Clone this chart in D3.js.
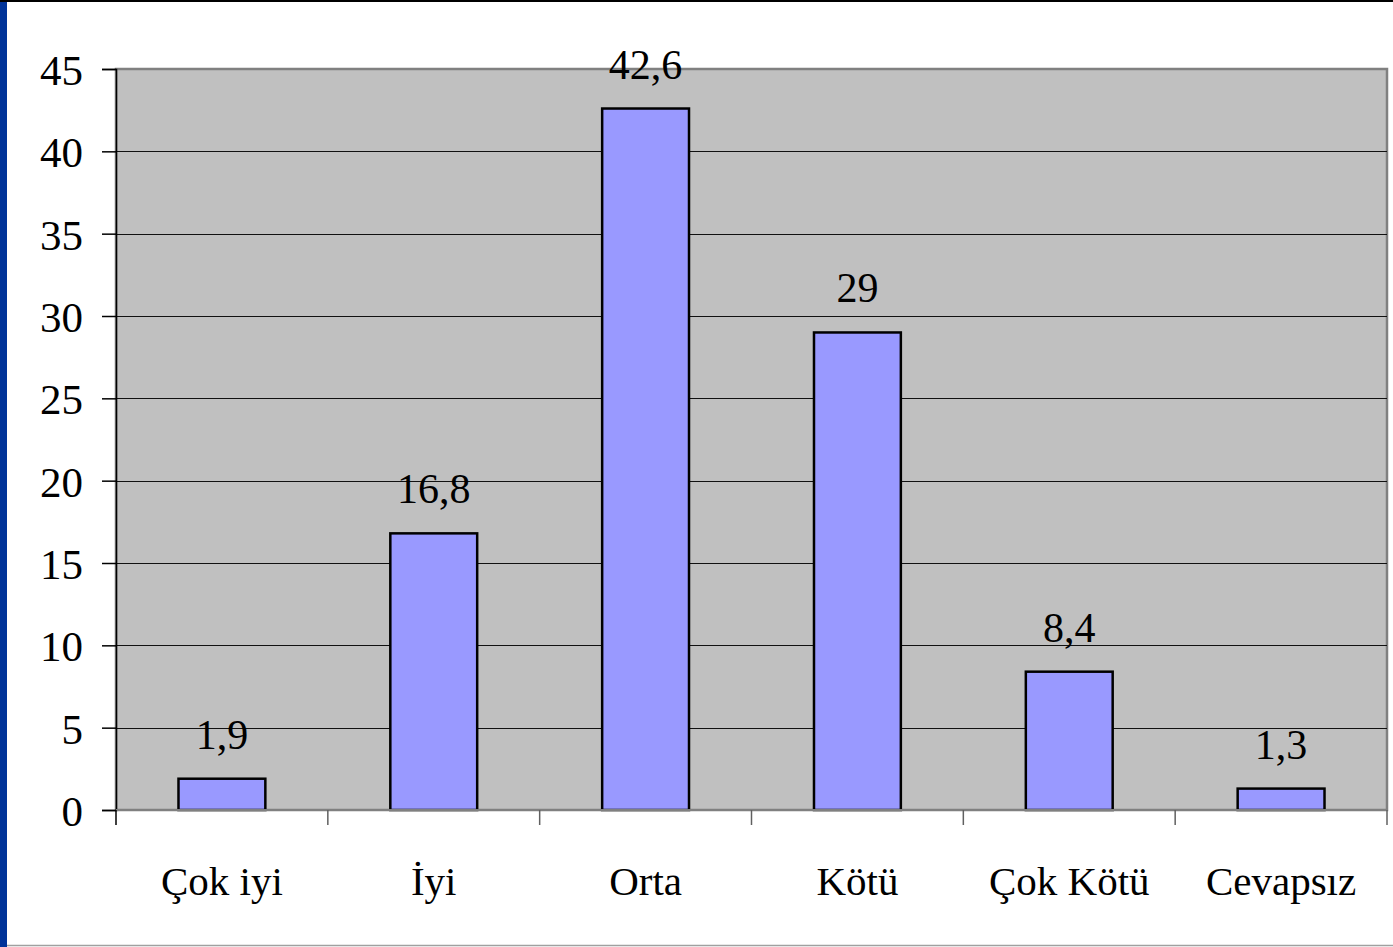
<!DOCTYPE html>
<html>
<head>
<meta charset="utf-8">
<script src="https://cdn.jsdelivr.net/npm/d3@7"></script>
<style>
  html, body { margin: 0; padding: 0; background: #fff; }
  svg { display: block; }
  text { font-family: "Liberation Serif", "Times New Roman", serif; fill: #000; }
</style>
</head>
<body>
<div id="chart"></div>
<script>
const categories = ['Çok iyi', 'İyi', 'Orta', 'Kötü', 'Çok Kötü', 'Cevapsız'];
const values = [1.9, 16.8, 42.6, 29, 8.4, 1.3];
const yTicks = [0, 5, 10, 15, 20, 25, 30, 35, 40, 45];

const width = 1393;
const height = 947;
const plot = { left: 116, top: 69, right: 1387, bottom: 810 };

const svg = d3.select('#chart').append('svg').attr('width', width).attr('height', height);

// slide frame
svg.append('rect').attr('width', width).attr('height', height).attr('fill', '#fff');
svg.append('rect').attr('x', 0).attr('y', 0).attr('width', 7).attr('height', height).attr('fill', '#003399');
svg.append('rect').attr('x', 0).attr('y', 0).attr('width', width).attr('height', 2).attr('fill', '#000');
svg.append('line').attr('x1', 7).attr('x2', width).attr('y1', 945.5).attr('y2', 945.5)
  .attr('stroke', '#a0a0a0').attr('stroke-width', 1.5);

const x = d3.scaleBand().domain(categories).range([plot.left, plot.right]).paddingInner(0.59).paddingOuter(0.295);
const y = d3.scaleLinear().domain([0, 45]).range([plot.bottom, plot.top]);

const g = svg.append('g');

g.append('rect')
  .attr('x', plot.left).attr('y', plot.top)
  .attr('width', plot.right - plot.left).attr('height', plot.bottom - plot.top)
  .attr('fill', '#c0c0c0').attr('stroke', '#808080').attr('stroke-width', 2.5);

// gridlines
g.selectAll('line.grid')
  .data(yTicks.filter(t => t > 0 && t < 45))
  .join('line')
  .attr('class', 'grid')
  .attr('x1', plot.left).attr('x2', plot.right)
  .attr('y1', d => Math.round(y(d)) + 0.5).attr('y2', d => Math.round(y(d)) + 0.5)
  .attr('stroke', '#111').attr('stroke-width', 1);

// bars
g.selectAll('rect.bar')
  .data(values)
  .join('rect')
  .attr('class', 'bar')
  .attr('x', (d, i) => x(categories[i]))
  .attr('y', d => y(d))
  .attr('width', x.bandwidth())
  .attr('height', d => y(0) - y(d))
  .attr('fill', '#9999ff').attr('stroke', '#000').attr('stroke-width', 2.5);

// value labels
g.selectAll('text.val')
  .data(values)
  .join('text')
  .attr('class', 'val')
  .attr('x', (d, i) => x(categories[i]) + x.bandwidth() / 2)
  .attr('y', d => y(d) - 30)
  .attr('text-anchor', 'middle')
  .attr('font-size', 42)
  .text(d => String(d).replace('.', ','));

// y axis
const yAxis = d3.axisLeft(y).tickValues(yTicks).tickSize(14).tickPadding(19).tickFormat(d3.format('d'));
const ya = svg.append('g').attr('transform', `translate(${plot.left},0)`).call(yAxis);
ya.select('.domain').attr('stroke', '#000').attr('stroke-width', 1.5);
ya.selectAll('.tick line').attr('stroke', '#000').attr('stroke-width', 1.5);
ya.selectAll('.tick text').attr('font-size', 43).attr('font-family', '"Liberation Serif", serif').attr('fill', '#000').attr('dy', '0.36em');

// x axis with ticks at category boundaries
const bounds = d3.range(categories.length + 1).map(i => plot.left + i * (plot.right - plot.left) / categories.length);
svg.append('line').attr('x1', plot.left).attr('x2', plot.right).attr('y1', plot.bottom).attr('y2', plot.bottom)
  .attr('stroke', '#808080').attr('stroke-width', 2);
svg.selectAll('line.xtick')
  .data(bounds)
  .join('line')
  .attr('class', 'xtick')
  .attr('x1', d => d).attr('x2', d => d)
  .attr('y1', plot.bottom).attr('y2', plot.bottom + 15)
  .attr('stroke', (d, i) => i === 0 ? '#000' : '#606060').attr('stroke-width', 1.5);

svg.selectAll('text.cat')
  .data(categories)
  .join('text')
  .attr('class', 'cat')
  .attr('x', d => x(d) + x.bandwidth() / 2)
  .attr('y', 895)
  .attr('text-anchor', 'middle')
  .attr('font-size', 41)
  .text(d => d);
</script>
</body>
</html>
